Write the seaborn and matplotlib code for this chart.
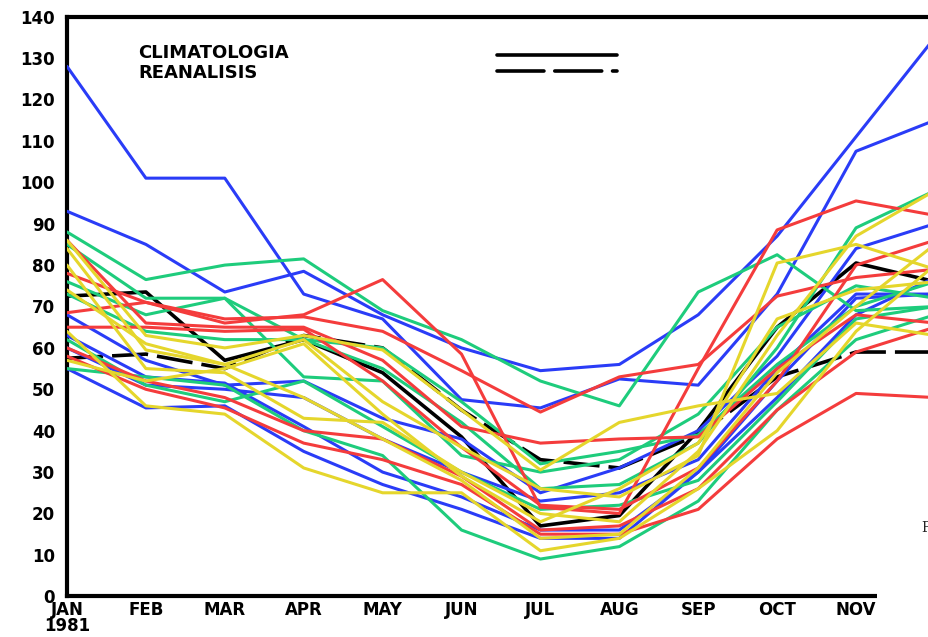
import matplotlib
matplotlib.use("Agg")
import matplotlib.pyplot as plt
import seaborn as sns
import pandas as pd
from matplotlib.patches import Rectangle
from matplotlib.lines import Line2D

# ---------------- data ----------------
months = ["JAN\n1981", "FEB", "MAR", "APR", "MAY", "JUN",
          "JUL", "AUG", "SEP", "OCT", "NOV", "DEC"]
yticks = list(range(0, 141, 10))

climatologia = [72.5, 73.5, 57, 62, 54, 38.5, 17, 19.5, 40, 65, 80.5, 76]
reanalisis = [57.5, 58.5, 55, 63, 60, 45, 33, 31, 39, 53, 59, 59]

blue_1 = [128, 101, 101, 73, 67, 47.5, 45.5, 52.5, 51, 73, 107.5, 115]
blue_2 = [93, 85, 73.5, 78.5, 68, 60, 54.5, 56, 68, 87, 111, 135]
blue_3 = [68, 57, 51, 52, 43, 38, 25, 31, 40, 58, 84, 90]
blue_4 = [63, 53, 51.5, 41, 30, 24, 16, 16, 30, 52, 72, 73]
blue_5 = [55, 45.5, 46, 35, 27, 21, 14, 14, 30, 48, 68, 77]
blue_6 = [60, 51, 50, 48, 38, 30, 23, 25, 33, 55, 73, 73]

green_1 = [88, 76.5, 80, 81.5, 69, 62, 52, 46, 73.5, 82.5, 69, 70]
green_2 = [85, 72, 72, 62, 55, 42, 26, 27, 37, 60, 89, 98]
green_3 = [76, 68, 72, 53, 52, 34, 30, 33, 44, 65, 75, 72]
green_4 = [62, 51, 47, 52, 41, 30, 21, 22, 28, 47, 67, 70]
green_5 = [55, 53, 51, 40, 34, 16, 9, 12, 23, 45, 62, 68]
green_6 = [73, 64, 62, 62, 60, 47, 32, 35, 39, 56, 70, 76]

red_1 = [78, 71, 66, 68, 76.5, 58.5, 21.5, 20, 55, 88.5, 95.5, 92]
red_2 = [68.5, 71, 67, 67.5, 64, 54.5, 44.5, 53, 56, 72.5, 77, 79]
red_3 = [86, 66, 65, 65, 57, 41, 37, 38, 38.5, 55, 68, 66]
red_4 = [65, 65, 64, 64.5, 52, 36, 22, 21, 31, 52, 80, 86]
red_5 = [58, 50, 45.5, 37, 33, 27, 15, 15, 21, 38, 49, 48]
red_6 = [60, 52, 48, 40, 38, 29, 16, 17, 26, 45, 59, 65]

yellow_1 = [86, 63, 60, 63, 59.5, 45, 30.5, 42, 46, 49, 66, 63]
yellow_2 = [84, 59.5, 56, 62, 47, 36, 26, 24, 34, 80.5, 85, 79]
yellow_3 = [80, 55, 54, 43, 42, 30, 20, 18, 35, 63, 87, 98]
yellow_4 = [74, 61, 56, 48, 38, 28, 14, 15, 31, 54, 70, 85]
yellow_5 = [64, 46, 44, 31, 25, 25, 11, 14, 26, 40, 64, 80]
yellow_6 = [57, 52, 55, 61, 44, 29, 18, 26, 37, 67, 74, 76]

members = {
    "blue_1": blue_1, "blue_2": blue_2, "blue_3": blue_3,
    "blue_4": blue_4, "blue_5": blue_5, "blue_6": blue_6,
    "green_1": green_1, "green_2": green_2, "green_3": green_3,
    "green_4": green_4, "green_5": green_5, "green_6": green_6,
    "red_1": red_1, "red_2": red_2, "red_3": red_3,
    "red_4": red_4, "red_5": red_5, "red_6": red_6,
    "yellow_1": yellow_1, "yellow_2": yellow_2, "yellow_3": yellow_3,
    "yellow_4": yellow_4, "yellow_5": yellow_5, "yellow_6": yellow_6,
}
base_colors = {"blue": "#2a3cf7", "green": "#1ecc7c",
               "red": "#f43c3c", "yellow": "#e5d62c"}

# ---------------- figure ----------------
sns.set_style("white")
plt.rcParams["font.family"] = ["DejaVu Sans"]
plt.rcParams["text.color"] = "black"

fig = plt.figure(figsize=(9.29, 6.37), dpi=100)
ax = fig.add_axes([0.0721, 0.0639, 0.9343, 0.9099])

idx = list(range(len(months)))
rows = []
for name, vals in members.items():
    for i, v in zip(idx, vals):
        rows.append({"month": i, "value": v, "series": name})
df = pd.DataFrame(rows)
palette = {name: base_colors[name.split("_")[0]] for name in members}

ref = pd.DataFrame({"month": idx, "clim": climatologia, "rean": reanalisis})
sns.lineplot(data=ref, x="month", y="clim", ax=ax, color="black",
             linewidth=2.6, zorder=2)
l = sns.lineplot(data=ref, x="month", y="rean", ax=ax, color="black",
                 linewidth=2.6, zorder=2)
l.lines[-1].set_dashes((10, 2.5))

sns.lineplot(data=df, x="month", y="value", hue="series", palette=palette,
             ax=ax, linewidth=2.2, legend=False, sort=False, zorder=3,
             estimator=None)

ax.set_xlim(0, 11)
ax.set_ylim(0, 140)
ax.set_xticks(idx)
ax.set_xticklabels(months)
ax.set_yticks(yticks)
ax.set_yticklabels([str(t) for t in yticks])
ax.set_xlabel("")
ax.set_ylabel("")

for s in ["left", "bottom", "top", "right"]:
    ax.spines[s].set_linewidth(3)
    ax.spines[s].set_color("black")

ax.tick_params(axis="y", direction="out", length=7, width=2.2,
               pad=1.5, labelsize=12, colors="black")
ax.tick_params(axis="x", length=0, pad=3.5, labelsize=12, colors="black")
for lab in ax.get_xticklabels() + ax.get_yticklabels():
    lab.set_fontweight("bold")
    lab.set_color("black")
for lab in ax.get_xticklabels():
    lab.set_linespacing(0.85)

# legend block (labels on the left, line samples on the right)
ax.text(0.0818, 0.9376, "CLIMATOLOGIA", transform=ax.transAxes,
        fontsize=13, fontweight="bold", va="center", ha="left", color="black")
ax.text(0.0818, 0.9022, "REANALISIS", transform=ax.transAxes,
        fontsize=13, fontweight="bold", va="center", ha="left", color="black")
ax.add_line(Line2D([0.4954, 0.6336], [0.9333, 0.9333], transform=ax.transAxes,
                   color="black", linewidth=2.6, solid_capstyle="round"))
dl = Line2D([0.4954, 0.6336], [0.9057, 0.9057], transform=ax.transAxes,
            color="black", linewidth=2.6, dash_capstyle="round")
dl.set_dashes((13, 3))
ax.add_line(dl)

# white patch covering the lower-right corner (as in the screenshot)
fig.patches.append(Rectangle((877 / 929, 0), 1, (637 - 500) / 637,
                             transform=fig.transFigure, facecolor="white",
                             edgecolor="none", zorder=10))
fig.text(921 / 929, 0.165, "P", fontsize=10, family="DejaVu Serif",
         color="#222222", zorder=11)

fig.savefig("out.png", dpi=100)
